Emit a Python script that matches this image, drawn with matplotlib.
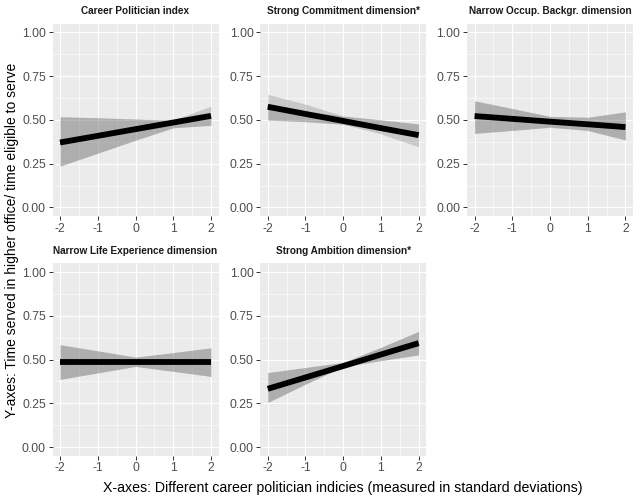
import numpy as np
import matplotlib
matplotlib.use("Agg")
import matplotlib.pyplot as plt
from matplotlib.ticker import FixedLocator

plt.rcParams['font.family'] = ['Liberation Sans', 'DejaVu Sans']

# data (x in standard deviations)
x_vals = [-2, -1, 0, 1, 2]

titles = [
    "Career Politician index",
    "Strong Commitment dimension*",
    "Narrow Occup. Backgr. dimension",
    "Narrow Life Experience dimension",
    "Strong Ambition dimension*",
]

# predicted value (thick line)
est = [
    [0.371, 0.409, 0.447, 0.485, 0.523],
    [0.575, 0.534, 0.494, 0.453, 0.413],
    [0.522, 0.506, 0.490, 0.475, 0.459],
    [0.486, 0.486, 0.486, 0.486, 0.486],
    [0.333, 0.398, 0.463, 0.529, 0.594],
]

# first ribbon (full extent)
ci_lo = [
    [0.236, 0.310, 0.384, 0.455, 0.469],
    [0.499, 0.490, 0.475, 0.420, 0.346],
    [0.423, 0.440, 0.458, 0.440, 0.385],
    [0.387, 0.424, 0.461, 0.433, 0.404],
    [0.255, 0.360, 0.460, 0.494, 0.527],
]
ci_hi = [
    [0.518, 0.512, 0.505, 0.500, 0.578],
    [0.646, 0.590, 0.522, 0.500, 0.477],
    [0.609, 0.565, 0.520, 0.515, 0.546],
    [0.585, 0.550, 0.514, 0.540, 0.567],
    [0.426, 0.455, 0.484, 0.570, 0.661],
]

# second ribbon (overlaps the first)
ci2_lo = [
    [0.236, 0.310, 0.384, 0.455, 0.469],
    [0.499, 0.490, 0.475, 0.440, 0.413],
    [0.423, 0.440, 0.458, 0.440, 0.385],
    [0.387, 0.424, 0.461, 0.433, 0.404],
    [0.255, 0.360, 0.460, 0.494, 0.527],
]
ci2_hi = [
    [0.518, 0.512, 0.505, 0.495, 0.523],
    [0.575, 0.550, 0.522, 0.500, 0.477],
    [0.609, 0.565, 0.520, 0.515, 0.546],
    [0.585, 0.550, 0.514, 0.540, 0.567],
    [0.426, 0.455, 0.484, 0.570, 0.661],
]

y_ticks = [0.0, 0.25, 0.5, 0.75, 1.0]
y_labels = ["0.00", "0.25", "0.50", "0.75", "1.00"]
x_ticks = [-2, -1, 0, 1, 2]
x_labels = ["-2", "-1", "0", "1", "2"]

W, H = 640, 498
fig = plt.figure(figsize=(W / 100, H / 100), dpi=100)

# panel boxes in pixels (left, top)
lefts = [52.5, 260.2, 467.0]
tops = [23.6, 263.3]
pw, ph = 166.0, 192.6

for i, title in enumerate(titles):
    r, c = divmod(i, 3)
    ax = fig.add_axes([lefts[c] / W, 1 - (tops[r] + ph) / H, pw / W, ph / H])
    ax.set_facecolor('#EBEBEB')
    for s in ax.spines.values():
        s.set_visible(False)

    ax.fill_between(x_vals, ci_lo[i], ci_hi[i], color='#666666', alpha=0.26,
                    linewidth=0, zorder=2)
    ax.fill_between(x_vals, ci2_lo[i], ci2_hi[i], color='#666666', alpha=0.26,
                    linewidth=0, zorder=2)
    ax.plot(x_vals, est[i], color='black', lw=4.2, solid_capstyle='butt', zorder=3)

    ax.set_xlim(-2.2, 2.2)
    ax.set_ylim(-0.05, 1.05)
    ax.set_xticks(x_ticks)
    ax.set_xticklabels(x_labels)
    ax.set_yticks(y_ticks)
    ax.set_yticklabels(y_labels)
    ax.xaxis.set_minor_locator(FixedLocator([-1.5, -0.5, 0.5, 1.5]))
    ax.yaxis.set_minor_locator(FixedLocator([0.125, 0.375, 0.625, 0.875]))
    ax.grid(which='major', color='white', lw=0.85, zorder=1)
    ax.grid(which='minor', color='white', lw=0.42, zorder=1)
    ax.set_axisbelow(True)
    ax.tick_params(which='major', length=3.2, width=0.7, color='#333333',
                   labelsize=8.7, labelcolor='#4D4D4D', pad=1.5)
    ax.tick_params(which='minor', length=0)

    ax.text(0.5, 1 + 12.5 / ph, title, transform=ax.transAxes, ha='center',
            va='center', fontsize=7.2, fontweight='bold', color='#1A1A1A')

fig.text(12 / W, 1 - 240 / H,
         "Y-axes: Time served in higher office/ time eligible to serve",
         rotation=90, ha='center', va='center', fontsize=10.0, color='black')
fig.text(343 / W, 1 - 488 / H,
         "X-axes: Different career politician indicies (measured in standard deviations)",
         ha='center', va='center', fontsize=10.2, color='black')

fig.savefig("out.png", dpi=100)
